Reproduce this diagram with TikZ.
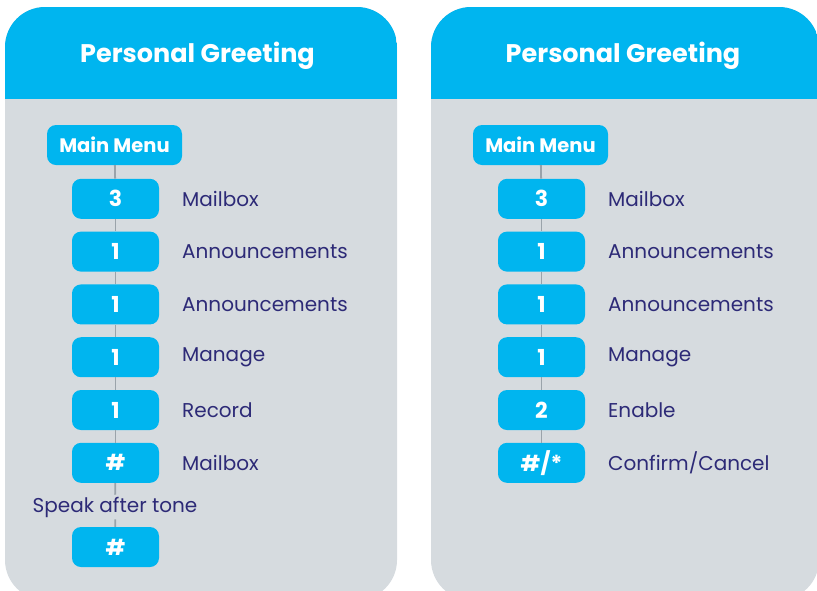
\documentclass[tikz,border=0pt]{standalone}
\usepackage{fontspec}
\setmainfont{Poppins}
\usetikzlibrary{positioning}
\definecolor{skyblue}{HTML}{00B5EF}
\definecolor{panelgray}{HTML}{D6DBDF}
\definecolor{navytext}{HTML}{2D2A77}
\definecolor{linegray}{HTML}{9AA3AA}
\tikzset{
	keybox/.style={fill=skyblue,rounded corners=9pt,minimum width=87pt,minimum height=40pt,inner sep=0pt,text=white,font=\fontsize{22}{26}\selectfont\bfseries},
	menubox/.style={keybox,minimum width=135pt,font=\fontsize{19.5}{23}\selectfont\bfseries},
	keylabel/.style={anchor=west,inner sep=0pt,text=navytext,font=\fontsize{20}{24}\selectfont},
	link/.style={linegray,line width=1.8pt},
	paneltitle/.style={text=white,font=\fontsize{25.5}{30}\selectfont\bfseries}
}

\begin{document}
\begin{tikzpicture}[x=1pt,y=-1pt]
	\useasboundingbox (0,0) rectangle (817,590);
	\clip (0,0) rectangle (817,590);

	%Fonds des panneaux
	\fill[panelgray,rounded corners=40pt] (5,7) rectangle (397,600);
	\fill[panelgray,rounded corners=40pt] (431,7) rectangle (819,600);
	\begin{scope}
		\clip[rounded corners=40pt] (5,7) rectangle (397,600);
		\fill[skyblue] (5,7) rectangle (397,99);
	\end{scope}
	\begin{scope}
		\clip[rounded corners=40pt] (431,7) rectangle (819,600);
		\fill[skyblue] (431,7) rectangle (819,99);
	\end{scope}

	%Titres
	\node[paneltitle] (titleA) at (197.5,56) {Personal Greeting};
	\node[paneltitle] (titleB) at (623,56) {Personal Greeting};

	%Panneau gauche : enregistrer
	\node[menubox] (mA) at (114.5,145) {Main Menu};
	\foreach \k/\t [count=\i] in {3/Mailbox,1/Announcements,1/Announcements,1/Manage,1/Record,\#/Mailbox}
	{
		\node[keybox] (kA\i) at (115.5,146+52.8*\i) {\k};
		\node[keylabel] (lA\i) at (182,146+52.8*\i) {\t};
	}
	\node[inner sep=2pt,text=navytext,font=\fontsize{20}{24}\selectfont] (tone) at (115,507) {Speak after tone};
	\node[keybox] (kA7) at (115.5,547) {\#};

	\draw[link] (mA) -- (kA1);
	\foreach \i [count=\j from 2] in {1,...,5}
		\draw[link] (kA\i) -- (kA\j);
	\draw[link] (kA6) -- (tone);
	\draw[link] (tone) -- (kA7);

	%Panneau droit : activer
	\node[menubox] (mB) at (540.5,145) {Main Menu};
	\foreach \k/\t [count=\i] in {3/Mailbox,1/Announcements,1/Announcements,1/Manage,2/Enable,{\#/*}/{Confirm/Cancel}}
	{
		\node[keybox] (kB\i) at (541.5,146+52.8*\i) {\k};
		\node[keylabel] (lB\i) at (608,146+52.8*\i) {\t};
	}

	\draw[link] (mB) -- (kB1);
	\foreach \i [count=\j from 2] in {1,...,5}
		\draw[link] (kB\i) -- (kB\j);
\end{tikzpicture}
\end{document}
